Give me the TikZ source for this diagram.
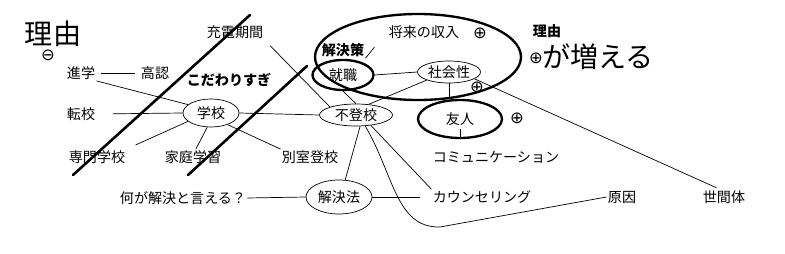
\documentclass[tikz,border=0pt]{standalone}
\usepackage{fontspec}
\setmainfont{Noto Sans CJK JP}
\newfontfamily\symfont{DejaVu Sans}
\usetikzlibrary{shapes.geometric}

\begin{document}
\begin{tikzpicture}[x=0.03cm,y=-0.03cm,
  every node/.style={font=\fontsize{12}{14}\selectfont,inner sep=1pt},
  topic/.style={draw,ellipse,inner sep=0pt,line width=.6pt},
  hot/.style={topic,line width=2pt},
  big/.style={font=\fontsize{24}{26}\selectfont},
  bold/.style={font=\bfseries\fontsize{12}{14}\selectfont},
  sign/.style={font=\symfont\fontsize{14}{14}\selectfont},
  link/.style={line width=.6pt},
  strike/.style={line width=2.2pt,line cap=round}]
  \useasboundingbox (0,0) rectangle (785,254);

  % left side
  \node[big] (riyuL) at (53,34) {理由};
  \node[sign] (minus) at (48,55) {⊖};
  \node (juden) at (235,32) {充電期間};
  \node (shingaku) at (81,73) {進学};
  \node (konin) at (155,73) {高認};
  \node[bold] (kodawari) at (229,80) {こだわりすぎ};
  \node (tenko) at (81,114) {転校};
  \node[topic,minimum width=1.68cm,minimum height=.84cm] (gakko) at (211,113) {学校};
  \node (senmon) at (97,157) {専門学校};
  \node (katei) at (193,157) {家庭学習};
  \node (betsu) at (310,157) {別室登校};

  % middle
  \node[topic,minimum width=2.19cm,minimum height=.66cm] (futoko) at (356,115) {不登校};
  \node[hot,minimum width=1.83cm,minimum height=.9cm] (shushoku) at (343,75) {就職};
  \node[bold] (saku) at (343,50) {解決策};
  \node (shunyu) at (424,32) {将来の収入};
  \node[sign] (p1) at (480,33) {⊕};
  \node[topic,minimum width=1.89cm,minimum height=.66cm] (shakai) at (449,72) {社会性};
  \node[sign] (p2) at (477,87) {⊕};
  \node[hot,minimum width=2.52cm,minimum height=1.14cm] (yujin) at (460,119) {友人};
  \node[sign] (p3) at (517,118) {⊕};
  \node (komyu) at (496,157) {コミュニケーション};

  % bottom row
  \node (nani) at (183,198) {何が解決と言える？};
  \node[topic,minimum width=1.98cm,minimum height=1.02cm] (hoho) at (339,197) {解決法};
  \node (counsel) at (482,197) {カウンセリング};
  \node (genin) at (622,197) {原因};
  \node (seken) at (724,197) {世間体};

  % right side
  \node[bold] (riyuR) at (547,31) {理由};
  \node[sign] (p4) at (536,58) {⊕};
  \node[big] (fueru) at (598,57) {が増える};

  \draw[line width=2pt] (418,57) ellipse [x radius=103, y radius=43];

  \draw[link,shorten <=1.5mm,shorten >=1.5mm] (shingaku) -- (konin);
  \draw[link] (shingaku.south east) -- (gakko.160);
  \draw[link,shorten <=5mm] (tenko.east) -- (gakko.west);
  \draw[link,shorten <=3mm] (senmon.north east) -- (gakko.200);
  \draw[link] (gakko.255) -- (katei.70);
  \draw[link] (gakko.-35) -- (betsu.north west);
  \draw[link] (gakko.east) -- (futoko.west);
  \draw[link,shorten <=2.5mm] (juden.south east) -- (futoko.north west);
  \draw[link] (shushoku.south) -- (futoko.north);
  \draw[link] (saku.south east) -- ++(9,-11);
  \draw[link] (shushoku.east) -- (shakai.west);
  \draw[link] (shakai.200) -- (futoko.40);
  \draw[link] (shakai.south) -- (shakai.south |- yujin.north);
  \draw[link,shorten >=1mm] (shakai.-15) -- (seken.120);
  \draw[link] (yujin.south) -- ++(0,-10);
  \draw[link] (futoko.-70) -- (hoho.70);
  \draw[link] (futoko.-35) -- (counsel.north west);
  \draw[link] (nani.east) -- (hoho.west);
  \draw[link,shorten >=3.5mm] (hoho.east) -- (counsel.west);
  \draw[link] (futoko.-50) .. controls (394,175) and (396,228) .. (440,227) -- (genin.west);

  % crossed out
  \draw[strike] (73,175) -- (250,15);
  \draw[strike] (188,175) -- (307,66);
\end{tikzpicture}
\end{document}
